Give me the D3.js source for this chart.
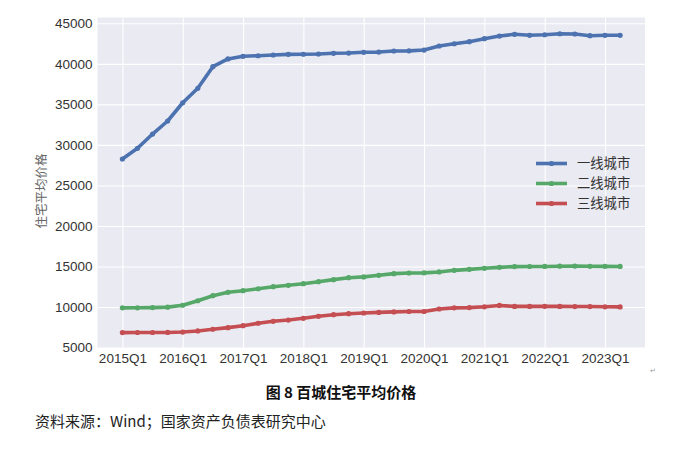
<!DOCTYPE html>
<html><head><meta charset="utf-8">
<script src="https://cdn.jsdelivr.net/npm/d3@7"></script>
<style>
html,body{margin:0;padding:0;background:#fff;}
svg text{font-family:"Liberation Sans",Arial,sans-serif;}
</style></head>
<body>
<svg id="chart" width="700" height="455"></svg>
<script>
// ---- data ----
const quarters = [];
for (let y = 2015; y <= 2023; y++) for (let q = 1; q <= 4; q++) if (!(y === 2023 && q > 2)) quarters.push(y + "Q" + q);
const tier1 = [28260,29580,31340,32950,35200,36980,39650,40600,40930,41000,41090,41170,41180,41210,41300,41330,
  41420,41450,41580,41600,41700,42200,42480,42730,43100,43430,43640,43520,43590,43710,43680,43470,43520,43520];
const tier2 = [9900,9910,9930,9990,10220,10780,11400,11820,12020,12260,12510,12680,12880,13130,13380,13620,
  13720,13920,14120,14200,14220,14330,14530,14650,14780,14900,14990,15000,15010,15040,15060,15030,15020,15010];
const tier3 = [6850,6860,6860,6870,6920,7050,7260,7460,7700,8000,8240,8400,8610,8860,9060,9180,
  9270,9340,9400,9450,9450,9760,9900,9930,10030,10200,10080,10080,10090,10080,10060,10060,10030,10020];
const seriesNames = ["一线城市","二线城市","三线城市"];
const seriesColors = ["#4C72B0","#55A868","#C44E52"];
const xTickIdx = [0,4,8,12,16,20,24,28,32];
const xTickLabels = ["2015Q1","2016Q1","2017Q1","2018Q1","2019Q1","2020Q1","2021Q1","2022Q1","2023Q1"];
const yTicks = [5000,10000,15000,20000,25000,30000,35000,40000,45000];
const yLabel = "住宅平均价格";
const caption = "图 8  百城住宅平均价格";
const source = "资料来源：Wind；国家资产负债表研究中心";

const series = [tier1, tier2, tier3];

// ---- layout ----
const svg = d3.select("#chart");
const L = 97.5, R = 645, T = 17.5, B = 348;
const n = quarters.length;
const x = d3.scaleLinear().domain([-0.05*(n-1), (n-1)*1.05]).range([L, R]);
const y = d3.scaleLinear().domain([4950, 45715]).range([B, T]);

svg.append("rect").attr("x", L).attr("y", T).attr("width", R-L).attr("height", B-T).attr("fill", "#EAEAF2");

// grid
const gx = svg.append("g").attr("transform", `translate(0,${B})`)
  .call(d3.axisBottom(x).tickValues(xTickIdx).tickSize(-(B-T)).tickFormat(""));
const gy = svg.append("g").attr("transform", `translate(${L},0)`)
  .call(d3.axisLeft(y).tickValues(yTicks).tickSize(-(R-L)).tickFormat(""));
[gx, gy].forEach(g => { g.select(".domain").remove(); g.selectAll("line").attr("stroke", "#fff").attr("stroke-width", 1.1); });

// tick labels
const ax = svg.append("g").attr("transform", `translate(0,${B})`)
  .call(d3.axisBottom(x).tickValues(xTickIdx).tickSize(0).tickPadding(5).tickFormat((d,i) => xTickLabels[i]));
const ay = svg.append("g").attr("transform", `translate(${L},0)`)
  .call(d3.axisLeft(y).tickValues(yTicks).tickSize(0).tickPadding(5).tickFormat(d3.format("d")));
[ax, ay].forEach(g => {
  g.select(".domain").remove();
  g.selectAll("text").attr("fill", "#333").style("font-size", "13.5px").style("font-family", "'Liberation Sans',Arial,sans-serif");
});

// y label
svg.append("text").attr("transform", `translate(46,191) rotate(-90)`)
  .attr("text-anchor", "middle").attr("fill", "#666").style("font-size", "12.5px")
  .style("font-family", "'Noto Sans CJK SC',sans-serif").text(yLabel);

// lines
const line = d3.line().x((d,i) => x(i)).y(d => y(d));
series.forEach((s, k) => {
  svg.append("path").datum(s).attr("d", line).attr("fill", "none")
    .attr("stroke", seriesColors[k]).attr("stroke-width", 3.6).attr("stroke-linejoin", "round").attr("stroke-linecap", "round");
  svg.append("g").selectAll("circle").data(s).join("circle")
    .attr("cx", (d,i) => x(i)).attr("cy", d => y(d)).attr("r", 2.6).attr("fill", seriesColors[k]);
});

// legend
const leg = svg.append("g");
seriesNames.forEach((name, k) => {
  const ly = 163.5 + k*20;
  leg.append("line").attr("x1", 536).attr("x2", 567).attr("y1", ly).attr("y2", ly)
    .attr("stroke", seriesColors[k]).attr("stroke-width", 3.6);
  leg.append("circle").attr("cx", 551.5).attr("cy", ly).attr("r", 2.6).attr("fill", seriesColors[k]);
  leg.append("text").attr("x", 577).attr("y", ly).attr("dy", "0.36em").attr("fill", "#333")
    .style("font-size", "13.3px").style("font-family", "'Noto Sans CJK SC',sans-serif").text(name);
});

// caption & source
svg.append("text").attr("x", 341).attr("y", 398).attr("text-anchor", "middle").attr("fill", "#111")
  .style("font-size", "15px").style("font-weight", "bold").style("font-family", "'Noto Sans CJK SC',sans-serif").text(caption);
svg.append("text").attr("x", 35).attr("y", 427).attr("fill", "#222")
  .style("font-size", "15px").style("font-family", "'Noto Sans CJK SC',sans-serif").text(source);
svg.append("text").attr("x", 650).attr("y", 373).attr("fill", "#999").style("font-size", "7px").text("↵");
</script>
</body></html>
